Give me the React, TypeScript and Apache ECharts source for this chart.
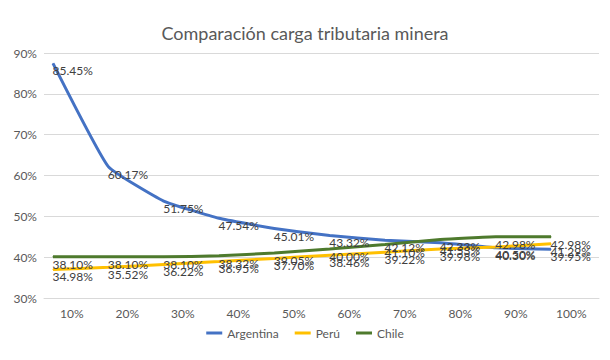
import React, { useEffect, useRef } from "react";
import * as echarts from "echarts";

const categories = ["10%", "20%", "30%", "40%", "50%", "60%", "70%", "80%", "90%", "100%"];
const yTicks = [30, 40, 50, 60, 70, 80, 90];
const argentina = [85.45, 60.17, 51.75, 47.54, 45.01, 43.32, 42.12, 41.53, 40.30, 39.95];
const peru = [34.98, 35.52, 36.22, 36.95, 37.70, 38.46, 39.22, 39.98, 40.50, 41.29];
const chile = [38.10, 38.10, 38.10, 38.32, 39.05, 40.00, 41.10, 42.33, 42.98, 42.98];

const FONT = "Lato, 'Open Sans', sans-serif";

export default function App() {
  const ref = useRef<HTMLDivElement>(null);
  useEffect(() => {
    if (!ref.current) return;
    const chart = echarts.init(ref.current, undefined, { renderer: "svg" });
    const mk = (name: string, data: number[], color: string, smooth: boolean | number) => ({
      name,
      type: "line",
      xAxisIndex: 1,
      yAxisIndex: 1,
      data,
      smooth,
      symbol: "circle",
      symbolSize: 1,
      lineStyle: { color, width: 3 },
      itemStyle: { color },
      label: {
        show: true,
        position: [0, 2],
        formatter: (p: any) => Number(p.value).toFixed(2) + "%",
        color: "#404040",
        fontSize: 12,
        fontFamily: FONT,
      },
      z: 2,
    });
    chart.setOption({
      animation: false,
      backgroundColor: "#ffffff",
      title: {
        text: "Comparación carga tributaria minera",
        left: "center",
        top: 19,
        textStyle: { color: "#595959", fontSize: 18, fontWeight: "normal", fontFamily: FONT },
      },
      legend: {
        data: ["Argentina", "Perú", "Chile"],
        top: 322,
        left: "center",
        icon: "rect",
        itemWidth: 16,
        itemHeight: 3,
        itemGap: 16,
        textStyle: { color: "#595959", fontSize: 12, fontFamily: FONT },
      },
      grid: [
        { left: 44, right: 11, top: 53, bottom: 62 },
        { left: 53, right: 59, top: 53, bottom: 62 },
      ],
      xAxis: [
        {
          type: "category",
          gridIndex: 0,
          data: categories,
          boundaryGap: true,
          axisLine: { show: true, lineStyle: { color: "#d9d9d9" } },
          axisTick: { show: false },
          axisLabel: { color: "#595959", fontSize: 12, fontFamily: FONT, margin: 9 },
        },
        {
          type: "category",
          gridIndex: 1,
          data: categories,
          boundaryGap: false,
          show: false,
        },
      ],
      yAxis: [
        {
          type: "value",
          gridIndex: 0,
          min: yTicks[0],
          max: yTicks[yTicks.length - 1],
          interval: 10,
          axisLine: { show: false },
          axisTick: { show: false },
          splitLine: { lineStyle: { color: "#d9d9d9", width: 1 } },
          axisLabel: { color: "#595959", fontSize: 12, fontFamily: FONT, margin: 7, formatter: "{value}%" },
        },
        {
          type: "value",
          gridIndex: 1,
          min: 28,
          max: 88,
          show: false,
          splitLine: { show: false },
        },
      ],
      series: [
        mk("Argentina", argentina, "#4472C4", 0.12),
        mk("Perú", peru, "#FFC000", 0.12),
        mk("Chile", chile, "#4E7A2D", 0.12),
      ],
    });
    return () => chart.dispose();
  }, []);
  return <div ref={ref} style={{ width: 610, height: 360, position: "absolute", left: 0, top: 0 }} />;
}
